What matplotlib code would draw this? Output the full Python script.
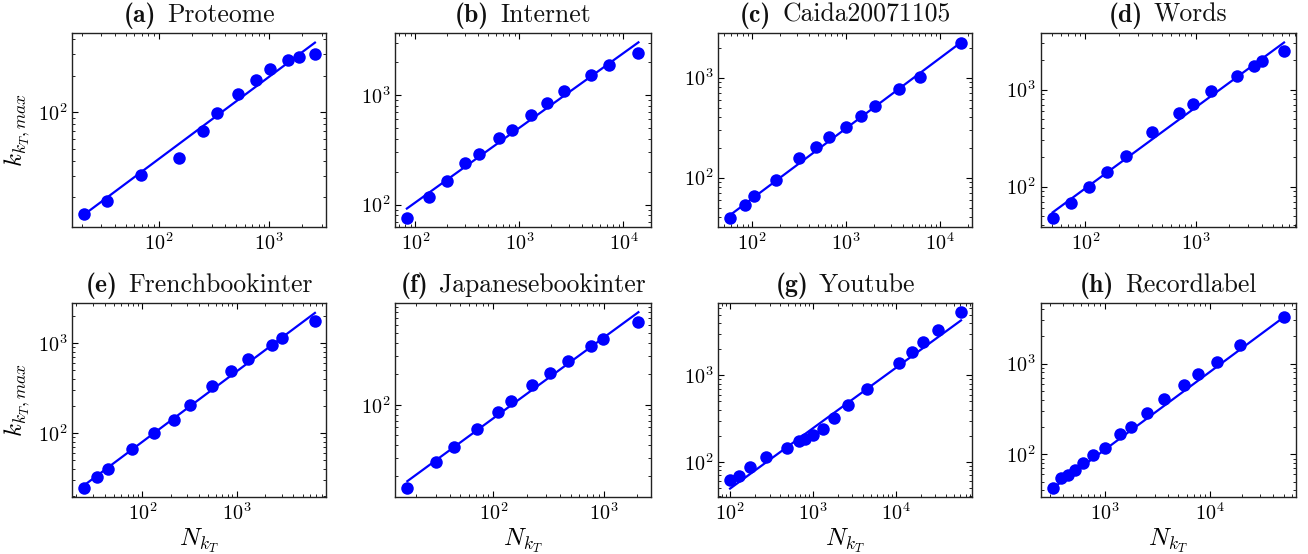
from __future__ import annotations

from dataclasses import dataclass

import matplotlib as mpl
import matplotlib.pyplot as plt
import numpy as np
from matplotlib.ticker import NullFormatter
from matplotlib.transforms import offset_copy

# (N_kT, k_kT,max) pairs
proteome_n = [21, 33.8, 68.7, 152, 249, 338, 520, 757, 1014, 1475, 1870, 2594]
proteome_k = [14.6, 18.5, 30.3, 42.4, 69.8, 98, 140.6, 184.5, 228.6, 271, 285, 301]

internet_n = [83, 135, 200, 303, 406, 643, 850, 1285, 1858, 2708, 4856, 7330, 13940]
internet_k = [76, 117, 163, 237, 292, 403, 480, 662, 845, 1080, 1512, 1892, 2415]

caida_n = [58.3, 84.4, 105, 179, 313, 479, 660, 1000, 1445, 2020, 3631, 6180, 16700]
caida_k = [39.8, 52.9, 65.6, 95.5, 157, 204, 253, 324, 411, 521, 770, 1008, 2239]

words_n = [50.6, 73.6, 107, 156, 234, 399, 711, 939, 1388, 2355, 3378, 3991, 6323]
words_k = [47.9, 68, 100, 143, 209, 363, 570, 717, 969, 1384, 1740, 1959, 2484]

french_n = [24.3, 32.8, 43.6, 77.6, 134, 215, 318, 548, 862, 1308, 2350, 3030, 6760]
french_k = [24.4, 32.3, 39.4, 65.8, 100, 140, 204, 334, 488, 663, 966, 1157, 1758]

japanese_n = [16.6, 30.2, 44, 71.1, 109, 144.5, 224, 327, 479, 773, 980, 2061]
japanese_k = [15.2, 27.4, 38.2, 57.3, 84.1, 110, 156, 203, 268, 373, 437, 646]

youtube_n = [100, 127, 173, 272, 492, 681, 812, 1000, 1320, 1807, 2690, 4480,
             10870, 15600, 21180, 32440, 61500]
youtube_k = [62.5, 69.5, 86.8, 113, 145, 173, 183, 203, 240, 322, 455, 695,
             1388, 1858, 2404, 3334, 5333]

record_n = [321, 388, 449, 519, 627, 769, 1000, 1399, 1792, 2525, 3656, 5662,
            7690, 11740, 19290, 50470]
record_k = [42.2, 54.4, 59.1, 66.6, 80.2, 99.2, 118.5, 166, 199, 283, 411, 582,
            763, 1052, 1622, 3297]

# power-law fits k = c * N^gamma
fit_gamma = [0.676, 0.681, 0.703, 0.835, 0.785, 0.79, 0.696, 0.86]
fit_c = [1.84, 4.54, 2.42, 2.05, 2.15, 1.94, 2.0, 0.295]

panel_labels = ["(a)", "(b)", "(c)", "(d)", "(e)", "(f)", "(g)", "(h)"]
panel_names = ["Proteome", "Internet", "Caida20071105", "Words",
               "Frenchbookinter", "Japanesebookinter", "Youtube", "Recordlabel"]


@dataclass
class PlotStyle:
    figsize: tuple = (13.08, 5.54)
    dpi: int = 100
    color: str = "#0000ff"
    marker_size: float = 9.0
    line_width: float = 1.6
    title_size: float = 18.5
    label_size: float = 18
    tick_size: float = 14.5


# axes boxes in figure fractions: left, bottom, width, height
AXES_BOXES = [
    (0.0550, 0.5903, 0.1942, 0.3502),
    (0.3022, 0.5903, 0.1953, 0.3502),
    (0.5492, 0.5903, 0.1942, 0.3502),
    (0.7956, 0.5903, 0.1952, 0.3502),
    (0.0550, 0.1023, 0.1942, 0.3502),
    (0.3022, 0.1023, 0.1953, 0.3502),
    (0.5492, 0.1023, 0.1942, 0.3502),
    (0.7956, 0.1023, 0.1952, 0.3502),
]

AXES_LIMITS = [
    ((16.3, 3265), (11.4, 449)),
    ((64.2, 18300), (62.5, 3672)),
    ((43.8, 22080), (32.1, 2798)),
    ((39.4, 8110), (38.4, 3837)),
    ((17.9, 8850), (19.2, 2793)),
    ((12.9, 2666), (12.4, 984)),
    ((72.2, 84300), (39.1, 6776)),
    ((247, 65500), (33.6, 4625)),
]


def setup_style() -> None:
    mpl.rcParams.update(
        {
            "font.family": "serif",
            "font.serif": ["cmr10", "DejaVu Serif"],
            "mathtext.fontset": "cm",
            "axes.formatter.use_mathtext": True,
            "axes.linewidth": 1.0,
            "axes.edgecolor": "#222222",
            "xtick.direction": "in",
            "ytick.direction": "in",
            "xtick.top": True,
            "ytick.right": True,
            "xtick.major.size": 4,
            "ytick.major.size": 4,
            "xtick.minor.size": 2,
            "ytick.minor.size": 2,
            "xtick.minor.visible": True,
            "ytick.minor.visible": True,
        }
    )


def add_title(fig, ax, label: str, name: str, style: PlotStyle) -> None:
    """
    Bold panel letter followed by the plain network name, centred on the axes.
    """

    renderer = fig.canvas.get_renderer()
    kw = dict(transform=ax.transAxes, fontsize=style.title_size,
              ha="left", va="baseline", color="#111111")
    bold = ax.text(0.5, 1.0, label, fontfamily="cmb10", **kw)
    plain = ax.text(0.5, 1.0, name, fontfamily="cmr10", **kw)

    w1 = bold.get_window_extent(renderer).width
    w2 = plain.get_window_extent(renderer).width
    gap = 0.42 * style.title_size * style.dpi / 72
    start = -(w1 + gap + w2) / 2
    lift = 11

    bold.set_transform(offset_copy(ax.transAxes, fig=fig, x=start, y=lift, units="dots"))
    plain.set_transform(offset_copy(ax.transAxes, fig=fig, x=start + w1 + gap, y=lift,
                                    units="dots"))


def draw_panel(fig, ax, n, k, idx: int, style: PlotStyle) -> None:
    n = np.asarray(n, dtype=float)
    k = np.asarray(k, dtype=float)

    ax.set_xscale("log")
    ax.set_yscale("log")

    xs = np.array([n.min(), n.max()])
    ax.plot(xs, fit_c[idx] * xs ** fit_gamma[idx],
            color=style.color, linewidth=style.line_width, zorder=2)
    ax.plot(n, k, "o", color=style.color, markersize=style.marker_size,
            markeredgewidth=0, zorder=3)

    (x0, x1), (y0, y1) = AXES_LIMITS[idx]
    ax.set_xlim(x0, x1)
    ax.set_ylim(y0, y1)

    ax.xaxis.set_minor_formatter(NullFormatter())
    ax.yaxis.set_minor_formatter(NullFormatter())
    ax.tick_params(axis="both", which="major", labelsize=style.tick_size)

    add_title(fig, ax, panel_labels[idx], panel_names[idx], style)

    if idx % 4 == 0:
        ax.set_ylabel(r"$k_{k_T,max}$", fontsize=style.label_size, labelpad=4)
    if idx >= 4:
        ax.set_xlabel(r"$N_{k_T}$", fontsize=style.label_size, labelpad=2)


def main() -> None:
    style = PlotStyle()
    setup_style()

    fig = plt.figure(figsize=style.figsize, dpi=style.dpi)

    series = [
        (proteome_n, proteome_k),
        (internet_n, internet_k),
        (caida_n, caida_k),
        (words_n, words_k),
        (french_n, french_k),
        (japanese_n, japanese_k),
        (youtube_n, youtube_k),
        (record_n, record_k),
    ]

    for idx, (n, k) in enumerate(series):
        ax = fig.add_axes(AXES_BOXES[idx])
        draw_panel(fig, ax, n, k, idx, style)

    fig.savefig("out.png", dpi=style.dpi)
    plt.close(fig)


if __name__ == "__main__":
    main()
